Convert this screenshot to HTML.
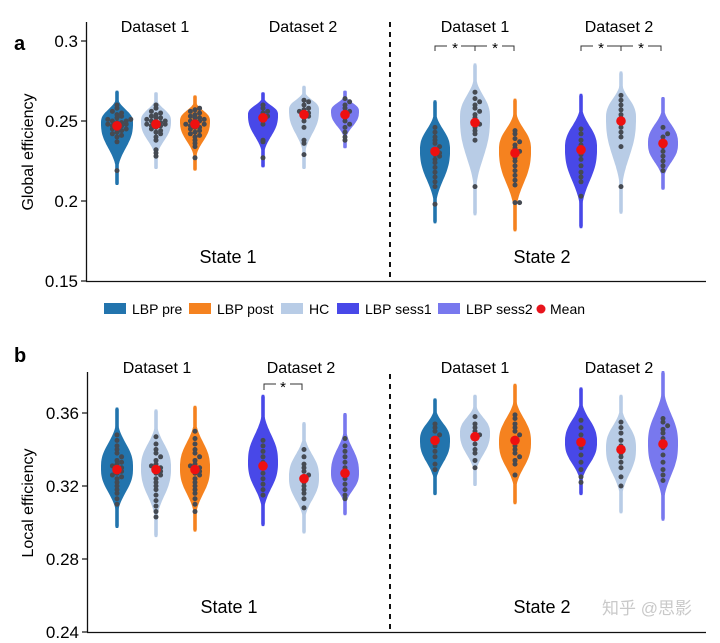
<!DOCTYPE html>
<html><head><meta charset="utf-8"><style>
body{margin:0;background:#fff;}
svg{display:block;font-family:"Liberation Sans",sans-serif;}
</style></head><body>
<svg id="chart" width="720" height="643" viewBox="0 0 720 643">
<g>
 <text x="14" y="50" font-size="20" font-weight="bold">a</text>
 <line x1="86.5" y1="22" x2="86.5" y2="281" stroke="#111" stroke-width="1.3"/>
 <line x1="86" y1="281.5" x2="706" y2="281.5" stroke="#111" stroke-width="1.3"/>
 <line x1="390" y1="22" x2="390" y2="281" stroke="#111" stroke-width="2" stroke-dasharray="5,5"/>
 <text transform="translate(33,152) rotate(-90)" text-anchor="middle" font-size="16">Global efficiency</text>
 <text x="155" y="32" text-anchor="middle" font-size="16">Dataset 1</text>
 <text x="303" y="32" text-anchor="middle" font-size="16">Dataset 2</text>
 <text x="475" y="32" text-anchor="middle" font-size="16">Dataset 1</text>
 <text x="619" y="32" text-anchor="middle" font-size="16">Dataset 2</text>
 <text x="228" y="263" text-anchor="middle" font-size="18">State 1</text>
 <text x="542" y="263" text-anchor="middle" font-size="18">State 2</text>
 <g id="a-ticks"></g><g id="a-violins"></g>
 <g fill="none" stroke="#333" stroke-width="1">
  <path d="M435,51 V46 H447 M461,46 H487 M475,46 V51 M502,46 H514 V51"/>
  <path d="M581,51 V46 H593 M607,46 H633 M621,46 V51 M648,46 H661 V51"/>
 </g>
 <g font-size="15" text-anchor="middle">
  <text x="455" y="53">*</text><text x="495" y="53">*</text><text x="601" y="53">*</text><text x="641" y="53">*</text>
 </g>
</g>
<g>
 <rect x="104" y="303" width="22" height="11" fill="#2274ad"/>
 <text x="132" y="314" font-size="14">LBP pre</text>
 <rect x="189" y="303" width="22" height="11" fill="#f5821f"/>
 <text x="217" y="314" font-size="14">LBP post</text>
 <rect x="281" y="303" width="22" height="11" fill="#b8cce6"/>
 <text x="309" y="314" font-size="14">HC</text>
 <rect x="337" y="303" width="22" height="11" fill="#4848e8"/>
 <text x="365" y="314" font-size="14">LBP sess1</text>
 <rect x="438" y="303" width="22" height="11" fill="#7878ee"/>
 <text x="466" y="314" font-size="14">LBP sess2</text>
 <circle cx="541" cy="309" r="4.5" fill="#e8141c"/>
 <text x="550" y="314" font-size="14">Mean</text>
</g>
<g>
 <text x="14" y="362" font-size="20" font-weight="bold">b</text>
 <line x1="87.5" y1="372" x2="87.5" y2="632" stroke="#111" stroke-width="1.3"/>
 <line x1="87" y1="632.5" x2="706" y2="632.5" stroke="#111" stroke-width="1.3"/>
 <line x1="390" y1="374" x2="390" y2="632" stroke="#111" stroke-width="2" stroke-dasharray="5,5"/>
 <text transform="translate(33,503) rotate(-90)" text-anchor="middle" font-size="16">Local efficiency</text>
 <text x="157" y="373" text-anchor="middle" font-size="16">Dataset 1</text>
 <text x="301" y="373" text-anchor="middle" font-size="16">Dataset 2</text>
 <text x="475" y="373" text-anchor="middle" font-size="16">Dataset 1</text>
 <text x="619" y="373" text-anchor="middle" font-size="16">Dataset 2</text>
 <text x="229" y="613" text-anchor="middle" font-size="18">State 1</text>
 <text x="542" y="613" text-anchor="middle" font-size="18">State 2</text>
 <g id="b-ticks"></g><g id="b-violins"></g>
 <path d="M264,390 V384 H276 M290,384 H302 V390" fill="none" stroke="#333" stroke-width="1"/>
 <text x="283" y="392" font-size="15" text-anchor="middle">*</text>
 <text x="692" y="614" text-anchor="end" font-size="17" fill="#c9c9c9" font-family="'Liberation Sans','Noto Sans CJK SC',sans-serif">知乎 @思影</text>
</g>
</svg>
<script>
// ---- data ----
const groupsX = [117,156,195,263,304,345,435,475,515,581,621,663];
const colorKeys = ["pre","hc","post","s1","hc","s2","pre","hc","post","s1","hc","s2"];
const aTicks = [0.15,0.2,0.25,0.3];
const aTickLabels = ["0.15","0.2","0.25","0.3"];
const aMean = [0.247,0.248,0.248,0.252,0.254,0.254,0.231,0.249,0.230,0.232,0.250,0.236];
const aMode = [0.249,0.250,0.250,0.254,0.257,0.256,0.232,0.252,0.232,0.233,0.252,0.236];
const aMin  = [0.210,0.220,0.219,0.221,0.220,0.233,0.186,0.191,0.181,0.183,0.192,0.207];
const aMax  = [0.269,0.268,0.266,0.268,0.272,0.269,0.263,0.286,0.264,0.267,0.281,0.265];
const aDots = [
 [0.219,0.237,0.240,0.241,0.242,0.243,0.244,0.245,0.245,0.246,0.247,0.247,0.248,0.248,0.249,0.249,0.250,0.250,0.251,0.251,0.252,0.253,0.254,0.255,0.256,0.258,0.260],
 [0.228,0.230,0.232,0.238,0.240,0.242,0.243,0.244,0.245,0.246,0.247,0.247,0.248,0.248,0.249,0.249,0.250,0.250,0.251,0.252,0.252,0.253,0.254,0.255,0.256,0.258,0.260],
 [0.227,0.234,0.236,0.238,0.240,0.241,0.242,0.243,0.244,0.245,0.246,0.246,0.247,0.248,0.248,0.249,0.250,0.250,0.251,0.252,0.252,0.253,0.254,0.255,0.256,0.257,0.258],
 [0.227,0.237,0.238,0.248,0.250,0.252,0.253,0.255,0.256,0.258,0.260],
 [0.229,0.236,0.238,0.246,0.250,0.252,0.253,0.254,0.255,0.256,0.257,0.258,0.260,0.262,0.263],
 [0.238,0.240,0.243,0.246,0.248,0.250,0.252,0.254,0.256,0.258,0.260,0.262,0.264],
 [0.198,0.209,0.212,0.215,0.218,0.221,0.224,0.226,0.228,0.229,0.230,0.232,0.234,0.236,0.238,0.240,0.243,0.246],
 [0.209,0.238,0.242,0.244,0.246,0.248,0.250,0.252,0.254,0.256,0.258,0.260,0.262,0.264,0.268],
 [0.199,0.199,0.210,0.213,0.216,0.219,0.222,0.225,0.227,0.229,0.231,0.233,0.235,0.237,0.239,0.242,0.244],
 [0.203,0.212,0.215,0.218,0.222,0.226,0.229,0.232,0.235,0.238,0.242,0.245],
 [0.209,0.234,0.240,0.243,0.246,0.249,0.252,0.254,0.257,0.260,0.263,0.266],
 [0.219,0.222,0.225,0.228,0.231,0.234,0.237,0.240,0.242,0.246]
];
const bTicks = [0.24,0.28,0.32,0.36];
const bTickLabels = ["0.24","0.28","0.32","0.36"];
const bMean = [0.329,0.329,0.329,0.331,0.324,0.327,0.345,0.347,0.345,0.344,0.340,0.343];
const bMode = [0.330,0.330,0.330,0.333,0.325,0.327,0.345,0.349,0.344,0.344,0.341,0.343];
const bMin  = [0.297,0.292,0.295,0.298,0.294,0.304,0.315,0.320,0.310,0.315,0.305,0.301];
const bMax  = [0.363,0.362,0.364,0.370,0.355,0.360,0.368,0.370,0.376,0.374,0.370,0.383];
const bDots = [
 [0.310,0.313,0.316,0.318,0.320,0.322,0.324,0.325,0.326,0.327,0.328,0.329,0.330,0.331,0.332,0.333,0.334,0.336,0.338,0.340,0.342,0.345,0.348],
 [0.303,0.306,0.309,0.312,0.315,0.318,0.320,0.322,0.324,0.326,0.327,0.328,0.329,0.330,0.331,0.332,0.334,0.336,0.338,0.340,0.343,0.347],
 [0.306,0.310,0.313,0.316,0.318,0.320,0.322,0.324,0.326,0.327,0.328,0.329,0.330,0.331,0.332,0.334,0.336,0.338,0.340,0.343,0.346,0.350],
 [0.315,0.318,0.321,0.324,0.327,0.330,0.333,0.336,0.339,0.342,0.345],
 [0.308,0.313,0.316,0.318,0.320,0.322,0.324,0.326,0.328,0.330,0.332,0.336,0.340],
 [0.313,0.315,0.318,0.321,0.324,0.327,0.330,0.333,0.336,0.339,0.342,0.346],
 [0.329,0.332,0.336,0.339,0.342,0.344,0.346,0.348,0.350,0.352,0.354],
 [0.330,0.334,0.338,0.340,0.343,0.346,0.348,0.350,0.352,0.354,0.358],
 [0.326,0.332,0.334,0.336,0.338,0.340,0.342,0.344,0.346,0.348,0.350,0.352,0.354,0.357,0.359],
 [0.322,0.325,0.329,0.333,0.337,0.341,0.345,0.348,0.352,0.356],
 [0.320,0.325,0.330,0.333,0.336,0.338,0.340,0.342,0.345,0.349,0.352,0.355],
 [0.323,0.326,0.329,0.333,0.337,0.341,0.346,0.349,0.351,0.353,0.355,0.357]
];
const palette = {pre:"#2274ad",post:"#f5821f",hc:"#b8cce6",s1:"#4848e8",s2:"#7878ee"};
const halfWidth = [16,15,15,15,15,14,15,15,16,16,15,15];

// ---- axes ----
function yA(v){return 281 - (v-0.15)*1600;}
function yB(v){return 632 - (v-0.24)*1825;}
const NS="http://www.w3.org/2000/svg";
function mk(tag,attrs,parent){const e=document.createElementNS(NS,tag);for(const k in attrs)e.setAttribute(k,attrs[k]);parent.appendChild(e);return e;}

function drawTicks(gId,ticks,labels,yf,axisX){
 const g=document.getElementById(gId);
 ticks.forEach((t,i)=>{
  const y=yf(t);
  const ln=mk("line",{x1:axisX-5,x2:axisX,y1:y,y2:y,stroke:"#111","stroke-width":1.2},g);
  
  
  const tx=mk("text",{x:axisX-8,y:y+6,"text-anchor":"end","font-size":17},g);
  tx.textContent=labels[i];
  
  
 });
}

function drawViolins(gId,yf,mean,mode,mn,mx,dots,panel){
 const g=document.getElementById(gId);
 for(let i=0;i<groupsX.length;i++){
  const cx=groupsX[i], col=palette[colorKeys[i]];
  const w=halfWidth[i];
  const sdU=(mx[i]-mode[i])*0.38, sdL=(mode[i]-mn[i])*0.38;
  const N=60, right=[], left=[];
  for(let k=0;k<=N;k++){
   const v=mx[i]-(mx[i]-mn[i])*k/N;
   const sd=v>mode[i]?sdU:sdL;
   const z=Math.abs(v-mode[i])/sd;
   let hw=w*Math.exp(-0.5*Math.pow(z,2.6));
   if(k>0&&k<N) hw=Math.max(hw,1.8); else hw=1.2;
   right.push([cx+hw,yf(v)]);left.push([cx-hw,yf(v)]);
  }
  const pts=right.concat(left.reverse()).map(p=>p[0].toFixed(1)+","+p[1].toFixed(1)).join(" ");
  const vg=mk("g",{},g);
  
  
  const poly=mk("polygon",{points:pts,fill:col},vg);
  
  
  const bins={};
  dots[i].forEach(v=>{
   const y=yf(v); const b=Math.round(y/4.5);
   bins[b]=(bins[b]||0)+1;
   const n=bins[b]-1;
   const off=n===0?0:(n%2?1:-1)*Math.ceil(n/2)*4.6;
   const c=mk("circle",{cx:cx+off,cy:y,r:2.5,fill:"#454a52"},vg);
   
   
  });
  const m=mk("circle",{cx:cx,cy:yf(mean[i]),r:4.8,fill:"#ee1010"},vg);
  
  
 }
}
drawTicks("a-ticks",aTicks,aTickLabels,yA,86);
drawTicks("b-ticks",bTicks,bTickLabels,yB,87);
drawViolins("a-violins",yA,aMean,aMode,aMin,aMax,aDots,"panel-a");
drawViolins("b-violins",yB,bMean,bMode,bMin,bMax,bDots,"panel-b");
</script>
</body></html>
